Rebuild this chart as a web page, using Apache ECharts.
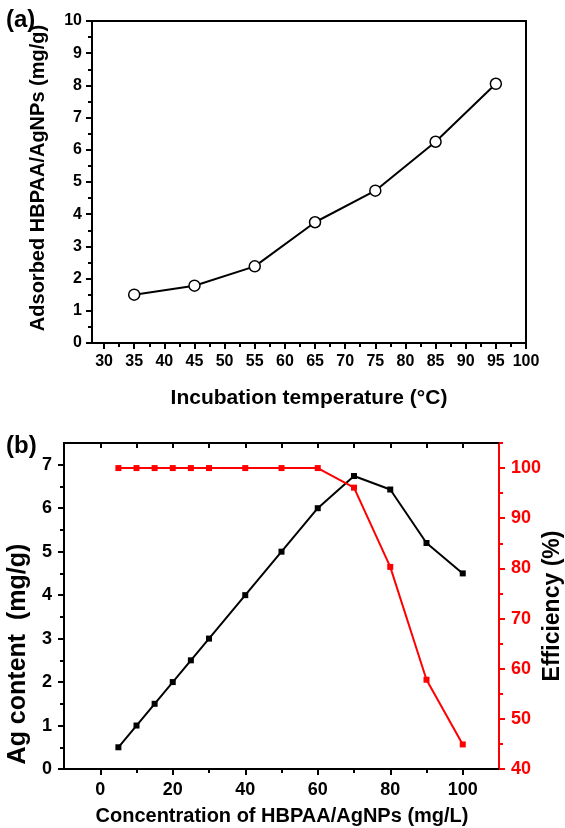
<!DOCTYPE html>
<html>
<head>
<meta charset="utf-8">
<script src="https://cdn.jsdelivr.net/npm/echarts@6/dist/echarts.min.js"></script>
<style>
  html, body { margin: 0; padding: 0; background: #fff; }
  #chart { width: 565px; height: 828px; }
</style>
</head>
<body>
<div id="chart"></div>
<script>
// panel (a)
var tempX = [35, 45, 55, 65, 75, 85, 95]
var adsorbed = [1.5, 1.78, 2.38, 3.75, 4.73, 6.25, 8.05]
var tempTicks = [30, 35, 40, 45, 50, 55, 60, 65, 70, 75, 80, 85, 90, 95, 100]
var tempMinorTicks = [32.5, 37.5, 42.5, 47.5, 52.5, 57.5, 62.5, 67.5, 72.5, 77.5, 82.5, 87.5, 92.5, 97.5]

// panel (b)
var conc = [5, 10, 15, 20, 25, 30, 40, 50, 60, 70, 80, 90, 100]
var agContent = [0.5, 1, 1.5, 2, 2.5, 3, 4, 5, 6, 6.74, 6.43, 5.2, 4.5]
var efficiency = [100, 100, 100, 100, 100, 100, 100, 100, 100, 96.1, 80.3, 57.8, 44.9]
var concTicks = [0, 20, 40, 60, 80, 100]
var concMinorTicks = [10, 30, 50, 70, 90]
var concTopTicks = [0, 10, 20, 30, 40, 50, 60, 70, 80, 90, 100]
var agTicks = [0, 1, 2, 3, 4, 5, 6, 7]
var agMinorTicks = [0.5, 1.5, 2.5, 3.5, 4.5, 5.5, 6.5]
var effTicks = [40, 50, 60, 70, 80, 90, 100]
var effMinorTicks = [45, 55, 65, 75, 85, 95, 105]

var FONT = '"Liberation Sans", Arial, sans-serif'
var RED = '#ff0000'

function pairs(xs, ys) {
  return xs.map(function(x, i) { return [x, ys[i]] })
}

var myChart = echarts.init(document.getElementById('chart'), null, { renderer: 'canvas' })

var lbl = function(size, color) {
  return { fontFamily: FONT, fontWeight: 'bold', fontSize: size, color: color || '#000' }
}

var option = {
  backgroundColor: '#fff',
  animation: false,
  grid: [
    { left: 92, top: 21, width: 434, height: 322, show: true, borderColor: '#000', borderWidth: 2, backgroundColor: 'transparent' },
    { left: 64, top: 443, width: 435, height: 326, show: true, borderColor: '#000', borderWidth: 2, backgroundColor: 'transparent' }
  ],
  xAxis: [
    {
      gridIndex: 0, type: 'value', min: 28, max: 100, position: 'bottom',
      axisLine: { onZero: false, lineStyle: { color: '#000', width: 2 } },
      axisTick: { customValues: tempTicks, length: 6, lineStyle: { width: 2, color: '#000' } },
      axisLabel: Object.assign({ customValues: tempTicks, margin: 11 }, lbl(16)),
      splitLine: { show: false }
    },
    {
      gridIndex: 0, type: 'value', min: 28, max: 100, position: 'bottom',
      axisLine: { show: false, onZero: false },
      axisTick: { customValues: tempMinorTicks, length: 4, lineStyle: { width: 2, color: '#000' } },
      axisLabel: { show: false },
      splitLine: { show: false }
    },
    {
      gridIndex: 1, type: 'value', min: -10, max: 110, position: 'bottom',
      axisLine: { onZero: false, lineStyle: { color: '#000', width: 2 } },
      axisTick: { customValues: concTicks, length: 6, lineStyle: { width: 2, color: '#000' } },
      axisLabel: Object.assign({ customValues: concTicks, margin: 12 }, lbl(18)),
      splitLine: { show: false }
    },
    {
      gridIndex: 1, type: 'value', min: -10, max: 110, position: 'bottom',
      axisLine: { show: false, onZero: false },
      axisTick: { customValues: concMinorTicks, length: 4, lineStyle: { width: 2, color: '#000' } },
      axisLabel: { show: false },
      splitLine: { show: false }
    },
    {
      gridIndex: 1, type: 'value', min: -10, max: 110, position: 'top',
      axisLine: { onZero: false, lineStyle: { color: '#000', width: 2 } },
      axisTick: { inside: true, customValues: concTopTicks, length: 5, lineStyle: { width: 2, color: '#000' } },
      axisLabel: { show: false },
      splitLine: { show: false }
    }
  ],
  yAxis: [
    {
      gridIndex: 0, type: 'value', min: 0, max: 10, interval: 1, position: 'left',
      axisLine: { show: true, onZero: false, lineStyle: { color: '#000', width: 2 } },
      axisTick: { length: 6, lineStyle: { width: 2, color: '#000' } },
      minorTick: { show: true, splitNumber: 2, length: 4, lineStyle: { width: 2, color: '#000' } },
      axisLabel: Object.assign({ margin: 10 }, lbl(16)),
      splitLine: { show: false }
    },
    {
      gridIndex: 1, type: 'value', min: 0, max: 7.5, position: 'left',
      axisLine: { show: true, onZero: false, lineStyle: { color: '#000', width: 2 } },
      axisTick: { customValues: agTicks, length: 6, lineStyle: { width: 2, color: '#000' } },
      axisLabel: Object.assign({ customValues: agTicks, margin: 12 }, lbl(18)),
      splitLine: { show: false }
    },
    {
      gridIndex: 1, type: 'value', min: 0, max: 7.5, position: 'left',
      axisLine: { show: false, onZero: false },
      axisTick: { customValues: agMinorTicks, length: 4, lineStyle: { width: 2, color: '#000' } },
      axisLabel: { show: false },
      splitLine: { show: false }
    },
    {
      gridIndex: 1, type: 'value', min: 40, max: 105, position: 'right',
      axisLine: { show: true, onZero: false, lineStyle: { color: RED, width: 2 } },
      axisTick: { customValues: effTicks, length: 6, lineStyle: { width: 2, color: RED } },
      axisLabel: Object.assign({ customValues: effTicks, margin: 12 }, lbl(18, RED)),
      splitLine: { show: false }
    },
    {
      gridIndex: 1, type: 'value', min: 40, max: 105, position: 'right',
      axisLine: { show: false, onZero: false },
      axisTick: { customValues: effMinorTicks, length: 4, lineStyle: { width: 2, color: RED } },
      axisLabel: { show: false },
      splitLine: { show: false }
    }
  ],
  series: [
    {
      type: 'line', xAxisIndex: 0, yAxisIndex: 0,
      data: pairs(tempX, adsorbed),
      symbol: 'circle', symbolSize: 11,
      lineStyle: { color: '#000', width: 2 },
      itemStyle: { color: '#fff', borderColor: '#000', borderWidth: 1.5 },
      z: 5
    },
    {
      type: 'line', xAxisIndex: 2, yAxisIndex: 1,
      data: pairs(conc, agContent),
      symbol: 'rect', symbolSize: 6,
      lineStyle: { color: '#000', width: 2 },
      itemStyle: { color: '#000' },
      z: 5
    },
    {
      type: 'line', xAxisIndex: 2, yAxisIndex: 3,
      data: pairs(conc, efficiency),
      symbol: 'rect', symbolSize: 6,
      lineStyle: { color: RED, width: 2 },
      itemStyle: { color: RED },
      z: 6
    }
  ],
  graphic: [
    { type: 'text', left: 6, top: 8, style: { text: '(a)', font: 'bold 24px ' + FONT, fill: '#000' } },
    { type: 'text', left: 6, top: 434, style: { text: '(b)', font: 'bold 24px ' + FONT, fill: '#000' } },
    {
      type: 'text', x: 38, y: 178, rotation: Math.PI / 2,
      style: { text: 'Adsorbed HBPAA/AgNPs (mg/g)', font: 'bold 20px ' + FONT, fill: '#000', align: 'center', verticalAlign: 'middle' }
    },
    {
      type: 'text', x: 309, y: 398,
      style: { text: 'Incubation temperature (°C)', font: 'bold 21px ' + FONT, fill: '#000', align: 'center', verticalAlign: 'middle' }
    },
    {
      type: 'text', x: 18, y: 654, rotation: Math.PI / 2,
      style: { text: 'Ag content  (mg/g)', font: 'bold 25px ' + FONT, fill: '#000', align: 'center', verticalAlign: 'middle' }
    },
    {
      type: 'text', x: 553, y: 606, rotation: Math.PI / 2,
      style: { text: 'Efficiency (%)', font: 'bold 23px ' + FONT, fill: '#000', align: 'center', verticalAlign: 'middle' }
    },
    {
      type: 'text', x: 282, y: 816,
      style: { text: 'Concentration of HBPAA/AgNPs (mg/L)', font: 'bold 20px ' + FONT, fill: '#000', align: 'center', verticalAlign: 'middle' }
    }
  ]
}

myChart.setOption(option)
window.addEventListener('resize', function() {
  myChart.resize()
})
</script>
</body>
</html>
